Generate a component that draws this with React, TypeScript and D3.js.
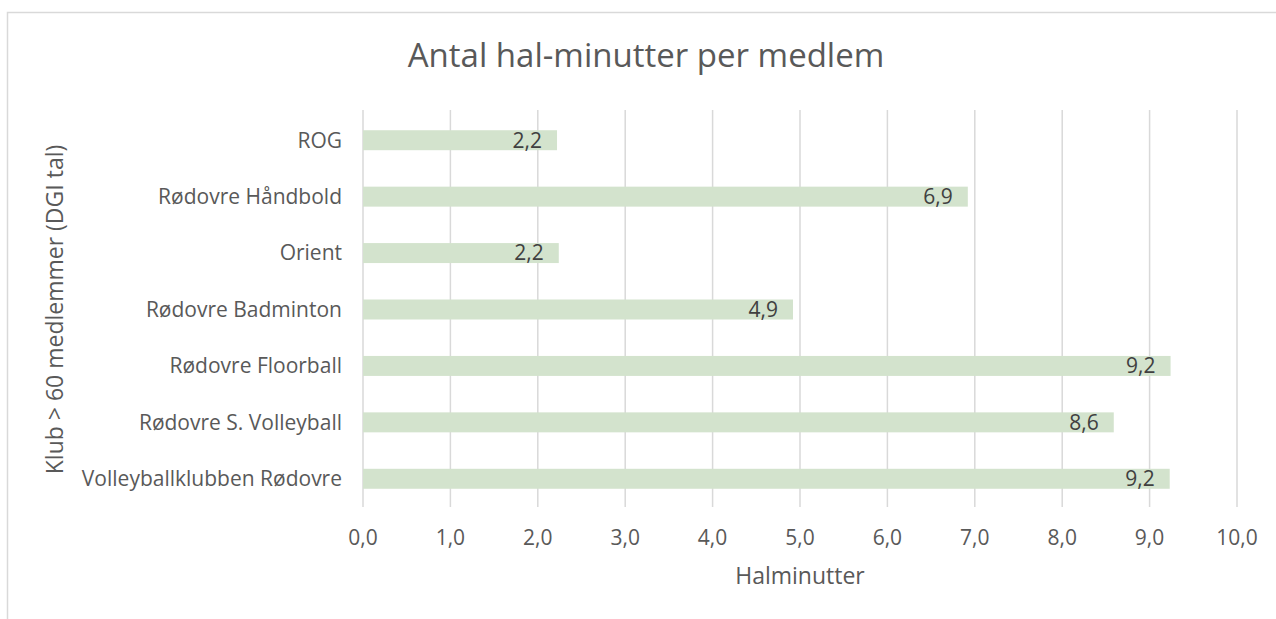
import React from "react";
import * as d3 from "d3";

const categories = [
  "ROG",
  "Rødovre Håndbold",
  "Orient",
  "Rødovre Badminton",
  "Rødovre Floorball",
  "Rødovre S. Volleyball",
  "Volleyballklubben Rødovre",
];
const values = [2.22, 6.92, 2.24, 4.92, 9.24, 8.59, 9.23];
const xTicks = [0, 1, 2, 3, 4, 5, 6, 7, 8, 9, 10];
const title = "Antal hal-minutter per medlem";
const xTitle = "Halminutter";
const yTitle = "Klub > 60 medlemmer (DGI tal)";

const W = 1276;
const H = 619;
const FONT = "'Open Sans', sans-serif";
const TEXT = "#595959";

export default function App() {
  const x = d3.scaleLinear().domain([0, 10]).range([363, 1237]);
  const y = d3.scaleBand<string>().domain(categories).range([112, 507]).paddingInner(0.646).paddingOuter(0.323);
  const fmt = (v: number) => v.toFixed(1).replace(".", ",");
  const [y0, y1] = [112, 507];
  return (
    <svg width={W} height={H} style={{ position: "absolute", left: 0, top: 0, fontFamily: FONT }}>
      <rect x={0} y={0} width={W} height={H} fill="#fff" />
      <rect x={7.5} y={12.5} width={W + 10} height={H + 10} fill="#fff" stroke="#d9d9d9" strokeWidth={1.5} />
      <text x={646} y={67} textAnchor="middle" fontSize={33} fill={TEXT}>{title}</text>
      {xTicks.map((t) => (
        <line key={t} x1={x(t)} x2={x(t)} y1={y0 - 2} y2={y1} stroke="#d9d9d9" strokeWidth={1.5} />
      ))}
      {categories.map((c, i) => (
        <g key={c}>
          <rect x={x(0)} y={y(c)!} width={x(values[i]) - x(0)} height={y.bandwidth()} fill="#d3e3cd" />
          <text x={x(values[i]) - 15} y={y(c)! + y.bandwidth() / 2} dy="0.35em" textAnchor="end" fontSize={21} fill="#404040">
            {fmt(values[i])}
          </text>
          <text x={342} y={y(c)! + y.bandwidth() / 2} dy="0.35em" textAnchor="end" fontSize={21} fill={TEXT}>
            {c}
          </text>
        </g>
      ))}
      {xTicks.map((t) => (
        <text key={t} x={x(t)} y={545} textAnchor="middle" fontSize={21} fill={TEXT}>
          {fmt(t)}
        </text>
      ))}
      <text x={800} y={584} textAnchor="middle" fontSize={23} fill={TEXT}>{xTitle}</text>
      <text transform={`translate(63,${(y0 + y1) / 2}) rotate(-90)`} textAnchor="middle" fontSize={23} fill={TEXT}>
        {yTitle}
      </text>
    </svg>
  );
}
